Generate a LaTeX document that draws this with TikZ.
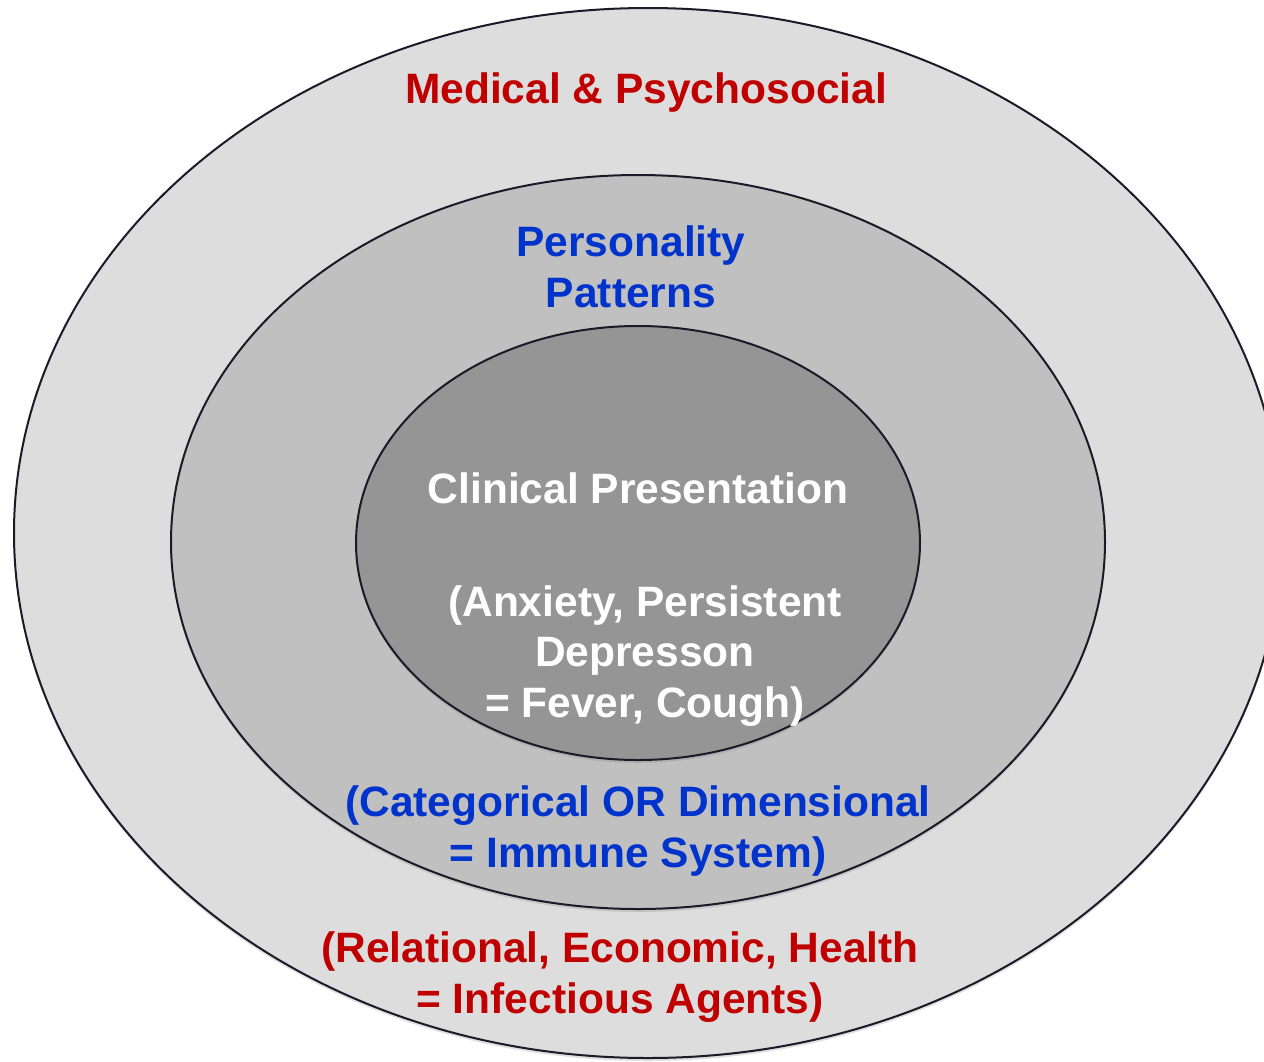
\documentclass[tikz,border=0pt]{standalone}
\usepackage{fontspec}
\setmainfont{Liberation Sans}
\usetikzlibrary{shadows}
\definecolor{outerfill}{HTML}{DDDDDD}
\definecolor{midfill}{HTML}{C0C0C0}
\definecolor{innerfill}{HTML}{959595}
\definecolor{ringline}{HTML}{1A1A2A}
\definecolor{redtxt}{HTML}{C00000}
\definecolor{bluetxt}{HTML}{0033CC}
\tikzset{
  ring/.style={draw=ringline, line width=2pt,
    drop shadow={opacity=0.25, shadow xshift=0pt, shadow yshift=-3pt}},
  lbl/.style={align=center, inner sep=0pt,
    font=\fontsize{42.5}{50.5}\selectfont\bfseries},
}
\begin{document}
\begin{tikzpicture}[x=1pt,y=-1pt]
\useasboundingbox (0,0) rectangle (1264,1061);
\begin{scope}
\clip (0,0) rectangle (1264,1061);
\path[ring, fill=outerfill] (648,533) ellipse [x radius=634, y radius=525];
\path[ring, fill=midfill] (638,542) ellipse [x radius=467, y radius=367];
\path[ring, fill=innerfill] (638,543) ellipse [x radius=282, y radius=217];
\end{scope}
\node[lbl, text=redtxt] (outertitle) at (646,93) {Medical \& Psychosocial};
\node[lbl, text=bluetxt] (midtitle) at (631,267) {Personality\\Patterns};
\node[lbl, text=white] (innertitle) at (638,488) {Clinical Presentation};
\node[lbl, text=white] (innertext) at (645,656) {(Anxiety, Persistent\\Depresson\\= Fever, Cough)};
\node[lbl, text=bluetxt] (midtext) at (638,831) {(Categorical OR Dimensional\\= Immune System)};
\node[lbl, text=redtxt] (outertext) at (620,977) {(Relational, Economic, Health\\= Infectious Agents)};
\end{tikzpicture}
\end{document}
